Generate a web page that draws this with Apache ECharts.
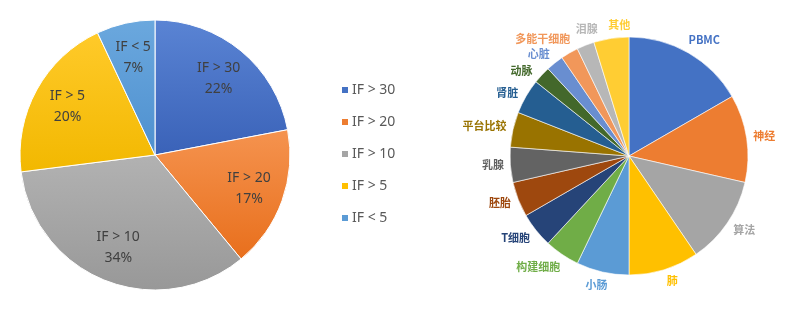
<!DOCTYPE html>
<html>
<head>
<meta charset="utf-8">
<script src="https://cdn.jsdelivr.net/npm/echarts@6/dist/echarts.min.js"></script>
<style>
html,body{margin:0;padding:0;background:#fff;}
#main{width:791px;height:312px;}
</style>
</head>
<body>
<div id="main"></div>
<script>
// ---- data ----
const leftCategories = ['IF > 30', 'IF > 20', 'IF > 10', 'IF > 5', 'IF < 5'];
const leftValues = [22, 17, 34, 20, 7];
const rightCategories = ['PBMC', '神经', '算法', '肺', '小肠', '构建细胞', 'T细胞', '胚胎', '乳腺', '平台比较', '肾脏', '动脉', '心脏', '多能干细胞', '泪腺', '其他'];
const rightValues = [7, 5, 5, 4, 3, 2, 2, 2, 2, 2, 2, 1, 1, 1, 1, 2];

// ---- styles ----
const leftColors = ['#4472C4', '#ED7D31', '#A5A5A5', '#FFC000', '#5B9BD5'];
const leftGrad = [['#5a84d4', '#3a62b8'], ['#f5934f', '#e86f1c'], ['#b2b2b2', '#989898'], ['#ffca2a', '#f2b800'], ['#6ba8de', '#4e90cf']];
const rightColors = ['#4472C4', '#ED7D31', '#A5A5A5', '#FFC000', '#5B9BD5', '#70AD47', '#264478', '#9E480E', '#636363', '#997300', '#255E91', '#43682B', '#698ED0', '#F1975A', '#B7B7B7', '#FFCD33'];
// small angular nudges (degrees) of the outside labels, as in the reference's label collision handling
const rightLabelNudge = [3, 0, -1.5, -2, 1.3, 5, 2.7, 1.4, 0.6, -1, -2.5, -4.6, -2.8, -6.3, 3, 4.3];

const LC = [155, 155], LR = 135;
const RC = [629, 156], RR = 119;

function midAngles(vals) {
  const tot = vals.reduce((a, b) => a + b, 0);
  let acc = 0;
  return vals.map(v => { const m = (acc + v / 2) / tot * 2 * Math.PI; acc += v; return m; });
}
const leftMid = midAngles(leftValues);
const rightMid = midAngles(rightValues);

const chart = echarts.init(document.getElementById('main'));
chart.setOption({
  animation: false,
  backgroundColor: '#fff',
  legend: {
    orient: 'vertical',
    left: 335,
    top: 77,
    icon: 'rect',
    itemWidth: 8,
    itemHeight: 8,
    itemGap: 16,
    textStyle: { fontSize: 14, color: '#595959', fontFamily: 'Noto Sans', lineHeight: 16, padding: [0, 0, 0, -2] },
    data: leftCategories.map((n, i) => ({ name: n, itemStyle: { color: leftColors[i] } }))
  },
  series: [
    {
      type: 'pie',
      center: LC,
      radius: [0, LR],
      startAngle: 90,
      avoidLabelOverlap: false,
      emphasis: { disabled: true },
      data: leftCategories.map((n, i) => ({
        name: n, value: leftValues[i],
        itemStyle: {
          color: new echarts.graphic.LinearGradient(0, 0, 0, 1, [
            { offset: 0, color: leftGrad[i][0] }, { offset: 1, color: leftGrad[i][1] }
          ])
        }
      })),
      itemStyle: { borderColor: '#ffffff', borderWidth: 1 },
      label: {
        show: true,
        position: 'inside',
        formatter: '{b}\n{c}%',
        fontSize: 14,
        lineHeight: 21,
        color: '#404040',
        fontFamily: 'Noto Sans'
      },
      labelLine: { show: false },
      labelLayout: function (p) {
        const a = leftMid[p.dataIndex];
        const d = LR * 0.74;
        return { x: LC[0] + Math.sin(a) * d, y: LC[1] - Math.cos(a) * d, align: 'center', verticalAlign: 'middle' };
      }
    },
    {
      type: 'pie',
      center: RC,
      radius: [0, RR],
      startAngle: 90,
      avoidLabelOverlap: false,
      emphasis: { disabled: true },
      data: rightCategories.map((n, i) => ({
        name: n, value: rightValues[i],
        itemStyle: { color: rightColors[i] },
        label: { color: rightColors[i] }
      })),
      itemStyle: { borderColor: '#ffffff', borderWidth: 0.6 },
      label: {
        show: true,
        position: 'outside',
        formatter: '{b}',
        fontSize: 11,
        fontWeight: 'bold',
        fontFamily: '"Noto Sans CJK SC", "Noto Sans", sans-serif'
      },
      labelLine: { show: false, length: 5, length2: 0 },
      labelLayout: function (p) {
        const a = rightMid[p.dataIndex] + rightLabelNudge[p.dataIndex] * Math.PI / 180;
        const w = p.labelRect.width, h = p.labelRect.height;
        const s = Math.sin(a), c = Math.cos(a);
        const ext = Math.abs(s) * w / 2 + Math.abs(c) * h / 2;
        const d = RR + 6 + ext;
        return { x: RC[0] + s * d, y: RC[1] - c * d, align: 'center', verticalAlign: 'middle' };
      }
    }
  ]
});
</script>
</body>
</html>
